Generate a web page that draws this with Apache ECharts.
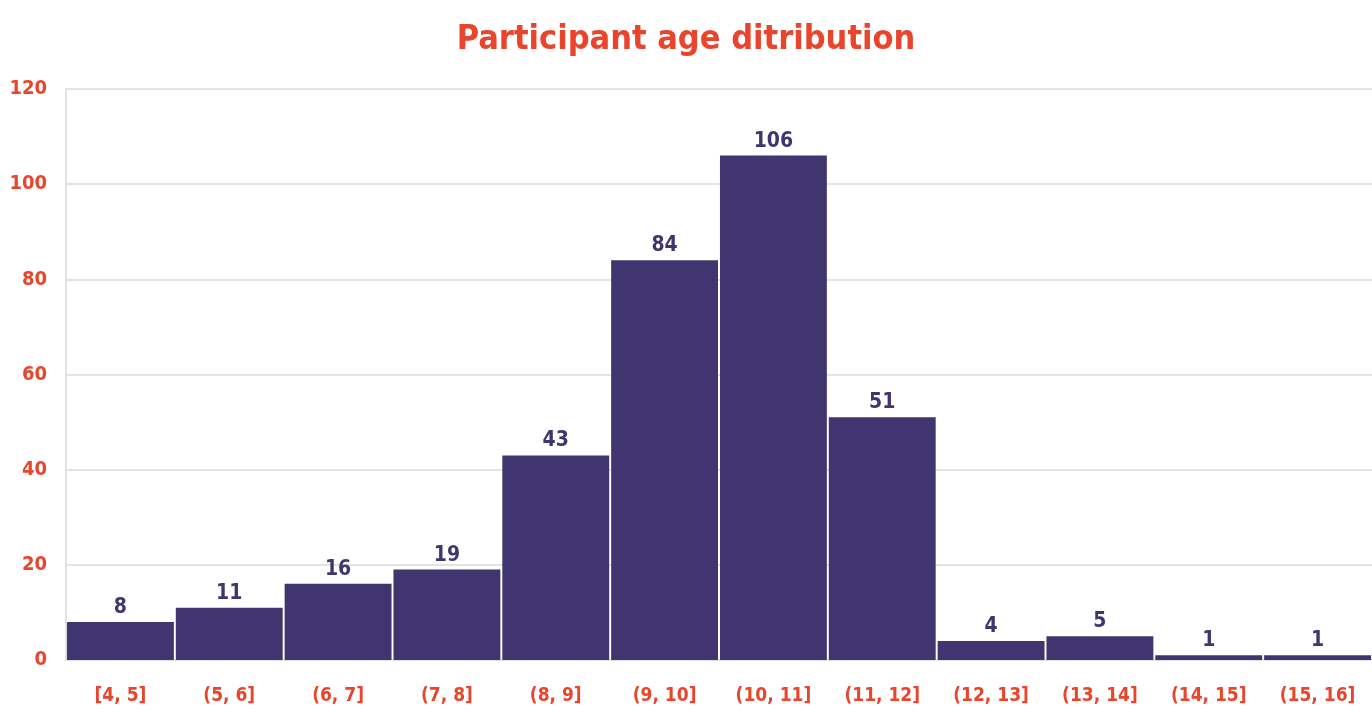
<!DOCTYPE html>
<html>
<head>
<meta charset="utf-8">
<script src="https://cdn.jsdelivr.net/npm/echarts@6/dist/echarts.min.js"></script>
<style>html,body{margin:0;padding:0;background:#fff;}#c{width:1372px;height:716px;}</style>
</head>
<body>
<div id="c"></div>
<script>
const titleText = 'Participant age ditribution';
const categories = ['[4, 5]', '(5, 6]', '(6, 7]', '(7, 8]', '(8, 9]', '(9, 10]', '(10, 11]', '(11, 12]', '(12, 13]', '(13, 14]', '(14, 15]', '(15, 16]'];
const counts = [8, 11, 16, 19, 43, 84, 106, 51, 4, 5, 1, 1];
const yTicks = [0, 20, 40, 60, 80, 100, 120];

const FONT = '"DejaVu Sans Condensed", sans-serif';
const RED = '#E8452C';
const PURPLE = '#41356F';

const chart = echarts.init(document.getElementById('c'), null, {renderer: 'canvas'});
chart.setOption({
  animation: false,
  backgroundColor: '#fff',
  title: {
    text: titleText,
    left: 'center',
    top: 18,
    textStyle: {color: RED, fontFamily: FONT, fontWeight: 'bold', fontSize: 34}
  },
  grid: {left: 66, top: 89, width: 1308, height: 571, containLabel: false},
  xAxis: {
    type: 'category',
    data: categories,
    axisLine: {show: true, lineStyle: {color: '#e3e3e3', width: 2}},
    axisTick: {show: false},
    axisLabel: {interval: 0, color: RED, fontFamily: FONT, fontWeight: 'bold', fontSize: 19, margin: 27}
  },
  yAxis: {
    type: 'value',
    min: yTicks[0],
    max: yTicks[yTicks.length - 1],
    interval: 20,
    axisLine: {show: true, lineStyle: {color: '#e3e3e3', width: 2}},
    axisTick: {show: false},
    splitLine: {show: true, lineStyle: {color: '#e3e3e3', width: 2}},
    axisLabel: {color: RED, fontFamily: FONT, fontWeight: 'bold', fontSize: 20, margin: 19}
  },
  series: [{
    type: 'bar',
    data: counts,
    barCategoryGap: '1.8%',
    itemStyle: {color: PURPLE},
    label: {
      show: true,
      position: 'top',
      distance: 4,
      color: PURPLE,
      fontFamily: FONT,
      fontWeight: 'bold',
      fontSize: 21
    }
  }]
});
</script>
</body>
</html>
